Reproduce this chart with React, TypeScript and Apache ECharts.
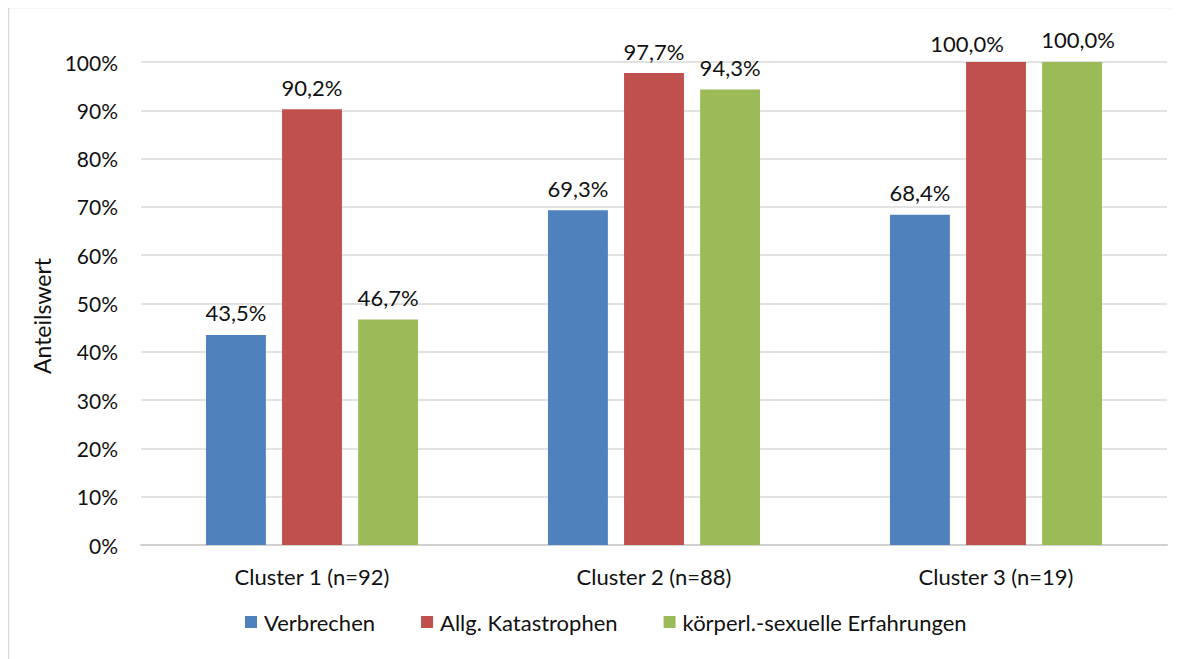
import React, { useEffect, useRef } from "react";
import * as echarts from "echarts";

const categories = ["Cluster 1 (n=92)", "Cluster 2 (n=88)", "Cluster 3 (n=19)"];
const seriesNames = ["Verbrechen", "Allg. Katastrophen", "körperl.-sexuelle Erfahrungen"];
const verbrechen = [43.5, 69.3, 68.4];
const katastrophen = [90.2, 97.7, 100.0];
const koerperlich = [46.7, 94.3, 100.0];
const colors = ["#4F81BD", "#C0504D", "#9BBB59"];
const yAxisTitle = "Anteilswert";

// label nudges (category-series) as placed in the original to avoid overlap – style only
const labelOffsets: Record<string, [number, number]> = {
  "2-1": [-29, 3],
  "2-2": [6, -1],
};

const FONT = "Lato, 'Open Sans', sans-serif";

export default function App() {
  const ref = useRef<HTMLDivElement>(null);
  useEffect(() => {
    const chart = echarts.init(ref.current!, undefined, { renderer: "svg" });
    const data = [verbrechen, katastrophen, koerperlich];
    chart.setOption({
      animation: false,
      textStyle: { fontFamily: FONT },
      graphic: [
        {
          type: "rect",
          shape: { x: 0.5, y: -0.5, width: 1300, height: 800 },
          style: { fill: "none", stroke: "#d9d9d9", lineWidth: 1.5 },
          silent: true,
        },
        {
          type: "text",
          x: 34,
          y: 308,
          rotation: Math.PI / 2,
          style: {
            text: yAxisTitle,
            fontSize: 23,
            fontFamily: FONT,
            fill: "#111",
            textAlign: "center",
            textVerticalAlign: "middle",
          },
        },
      ],
      grid: { left: 133, right: 13, top: 54, bottom: 114 },
      legend: {
        top: 598,
        left: 232,
        itemWidth: 12,
        itemHeight: 12,
        itemGap: 46,
        icon: "rect",
        textStyle: { fontSize: 22, color: "#111", fontFamily: FONT, padding: [0, 0, 0, 2] },
        data: seriesNames,
      },
      xAxis: {
        type: "category",
        data: categories,
        axisLine: { lineStyle: { color: "#d0d0d0", width: 2 } },
        axisTick: { show: false },
        axisLabel: { fontSize: 22, color: "#111", margin: 20, fontFamily: FONT },
      },
      yAxis: {
        type: "value",
        min: 0,
        max: 100,
        interval: 10,
        axisLabel: { fontSize: 21, color: "#111", margin: 23, formatter: (v: number) => v + "%", fontFamily: FONT },
        splitLine: { lineStyle: { color: "#d9d9d9", width: 1.5 } },
        axisLine: { show: false },
        axisTick: { show: false },
      },
      series: seriesNames.map((name, i) => ({
        name,
        type: "bar",
        data: data[i].map((v, j) => {
          const off = labelOffsets[j + "-" + i];
          return off ? { value: v, label: { offset: off } } : v;
        }),
        barGap: "27%",
        barCategoryGap: "38%",
        itemStyle: { color: colors[i] },
        label: {
          show: true,
          position: "top",
          distance: 11,
          fontSize: 22,
          color: "#111",
          fontFamily: FONT,
          formatter: (p: any) => p.value.toFixed(1).replace(".", ",") + "%",
        },
      })),
    });
    return () => chart.dispose();
  }, []);
  return <div ref={ref} style={{ width: 1172, height: 651 }} />;
}
